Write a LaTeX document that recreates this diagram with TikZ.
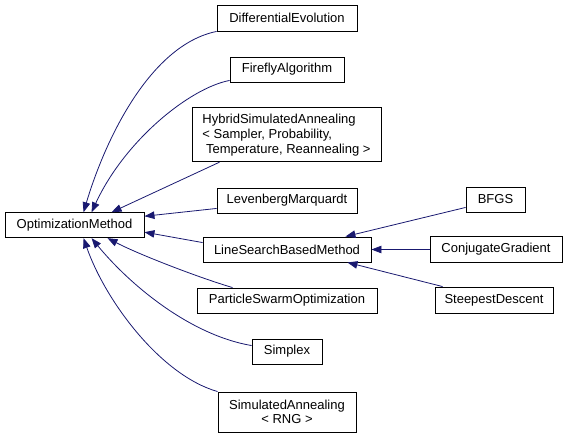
\documentclass[tikz,border=0pt]{standalone}
\usepackage{fontspec}
\setmainfont{Liberation Sans}
\usetikzlibrary{arrows.meta}
\definecolor{edgecol}{HTML}{191970}
\begin{document}
\begin{tikzpicture}[x=1pt,y=-1pt,
  box/.style={draw=black, line width=0.9pt, fill=white, inner sep=0pt,
    font=\fontsize{13}{15}\selectfont, align=center},
  edge/.style={draw=edgecol, line width=0.8pt,
    -{Triangle[length=10pt,width=7.5pt]}, color=edgecol}]
\useasboundingbox (0,0) rectangle (567,437);
% nodes
\node[box, minimum width=139pt, minimum height=25pt] (om) at (74.5,225.2) {OptimizationMethod};
\node[box, minimum width=140pt, minimum height=26pt] (de) at (287,18) {DifferentialEvolution};
\node[box, minimum width=114pt, minimum height=25pt] (ff) at (287,69.5) {FireflyAlgorithm};
\node[box, minimum width=189pt, minimum height=54pt, align=left] (hy) at (286.5,134.7)
  {HybridSimulatedAnnealing\\{<} Sampler, Probability,\\\hspace{3.6pt}Temperature, Reannealing {>}};
\node[box, minimum width=140pt, minimum height=25pt] (lm) at (287,200.5) {LevenbergMarquardt};
\node[box, minimum width=168pt, minimum height=25pt] (ls) at (287,249.5) {LineSearchBasedMethod};
\node[box, minimum width=180pt, minimum height=25pt] (ps) at (287,300.5) {ParticleSwarmOptimization};
\node[box, minimum width=70pt, minimum height=25pt] (sx) at (287,351.5) {Simplex};
\node[box, minimum width=138pt, minimum height=40pt, font=\fontsize{13}{14}\selectfont] (sa) at (287,412) {SimulatedAnnealing\\{<} RNG {>}};
\node[box, minimum width=59pt, minimum height=25pt] (bf) at (495.5,199.5) {BFGS};
\node[box, minimum width=132pt, minimum height=26pt] (cg) at (496,249.5) {ConjugateGradient};
\node[box, minimum width=118pt, minimum height=26pt] (sd) at (494,300) {SteepestDescent};
% edges to OptimizationMethod
\draw[edge] (de.south west) .. controls (150,45) and (105,140) .. ([xshift=79pt]om.north west);
\draw[edge] ([yshift=2pt]ff.south west) .. controls (190,88) and (125,140) .. ([xshift=87pt]om.north west);
\draw[edge] ([xshift=28pt]hy.south west) -- ([xshift=107pt]om.north west);
\draw[edge] ([yshift=5pt]lm.south west) -- ([yshift=-4pt]om.north east);
\draw[edge] ([yshift=-6pt]ls.north west) -- ([yshift=6pt]om.south east);
\draw[edge] ([xshift=36pt]ps.north west) .. controls (200,278) and (140,255) .. ([xshift=103pt]om.south west);
\draw[edge] ([yshift=-7pt]sx.north west) .. controls (190,335) and (130,285) .. ([xshift=87pt]om.south west);
\draw[edge] (sa.north west) .. controls (160,375) and (105,300) .. ([xshift=79pt]om.south west);
% edges to LineSearchBasedMethod
\draw[edge] ([yshift=5pt]bf.south west) -- ([xshift=-26pt]ls.north east);
\draw[edge] (cg.west) -- (ls.east);
\draw[edge] ([xshift=8pt]sd.north west) -- ([xshift=-24pt]ls.south east);
\end{tikzpicture}
\end{document}
